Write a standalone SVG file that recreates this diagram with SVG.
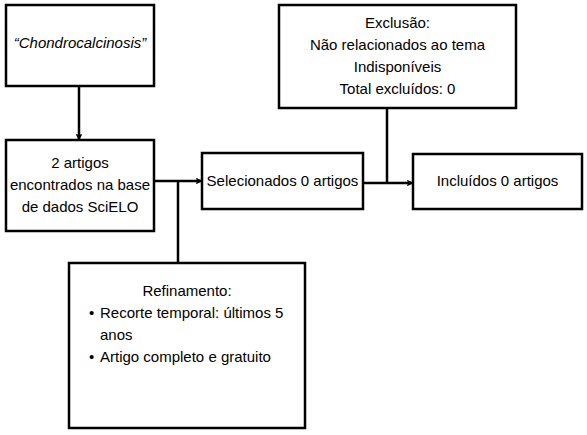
<svg xmlns="http://www.w3.org/2000/svg" width="587" height="435" viewBox="0 0 587 435">
<defs>
<style>
.box{fill:#fff;stroke:#000;stroke-width:2.5}
text{font-family:"Liberation Sans","DejaVu Sans",sans-serif;font-size:15px;fill:#000}
.c{text-anchor:middle}
.ln{fill:none;stroke:#000;stroke-width:2.5}
</style>
<marker id="ah" viewBox="0 0 10 10" refX="9" refY="5" markerWidth="6" markerHeight="6" orient="auto" markerUnits="userSpaceOnUse">
<path d="M1,1 L9,5 L1,9" fill="none" stroke="#000" stroke-width="2.5"/>
</marker>
</defs>
<rect width="587" height="435" fill="#fff"/>
<g id="connectors">
<line class="ln" x1="79" y1="87" x2="79" y2="139" marker-end="url(#ah)"/>
<line class="ln" x1="154" y1="181" x2="201" y2="181" marker-end="url(#ah)"/>
<line class="ln" x1="178" y1="181" x2="178" y2="263"/>
<line class="ln" x1="363" y1="183" x2="412" y2="183" marker-end="url(#ah)"/>
<line class="ln" x1="387" y1="108" x2="387" y2="183"/>
</g>
<g id="n-chondro">
<rect class="box" x="6" y="5" width="148" height="81"/>
<text class="c" x="80" y="48" font-style="italic">“Chondrocalcinosis”</text>
</g>
<g id="n-artigos">
<rect class="box" x="6" y="140" width="148" height="91"/>
<text class="c" x="80" y="168">2 artigos</text>
<text class="c" x="80" y="190">encontrados na base</text>
<text class="c" x="80" y="212">de dados SciELO</text>
</g>
<g id="n-selecionados">
<rect class="box" x="202" y="153" width="161" height="56"/>
<text class="c" x="282.5" y="186">Selecionados 0 artigos</text>
</g>
<g id="n-exclusao">
<rect class="box" x="279" y="5" width="237" height="103"/>
<text class="c" x="397.5" y="28">Exclusão:</text>
<text class="c" x="397.5" y="50">Não relacionados ao tema</text>
<text class="c" x="397.5" y="72">Indisponíveis</text>
<text class="c" x="397.5" y="94">Total excluídos: 0</text>
</g>
<g id="n-incluidos">
<rect class="box" x="413" y="154" width="169" height="55"/>
<text class="c" x="497.5" y="186">Incluídos 0 artigos</text>
</g>
<g id="n-refinamento">
<rect class="box" x="69" y="263" width="236" height="165"/>
<text class="c" x="187" y="296">Refinamento:</text>
<text x="89" y="318">•</text>
<text x="100" y="318">Recorte temporal: últimos 5</text>
<text x="100" y="340">anos</text>
<text x="89" y="362">•</text>
<text x="100" y="362">Artigo completo e gratuito</text>
</g>
</svg>
